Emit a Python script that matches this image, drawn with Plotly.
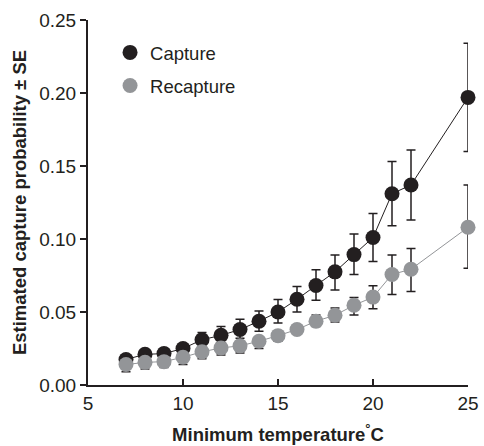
import plotly.graph_objects as go

temperature = [7, 8, 9, 10, 11, 12, 13, 14, 15, 16, 17, 18, 19, 20, 21, 22, 25]

capture = [0.0175, 0.021, 0.0215, 0.025, 0.031, 0.034, 0.038, 0.0437, 0.050, 0.0587,
           0.0682, 0.0775, 0.0893, 0.101, 0.131, 0.137, 0.197]
capture_hi = [0.020, 0.024, 0.025, 0.028, 0.036, 0.040, 0.045, 0.0507, 0.0585, 0.0675,
              0.079, 0.089, 0.1035, 0.1175, 0.153, 0.161, 0.234]
capture_lo = [0.015, 0.018, 0.018, 0.022, 0.026, 0.029, 0.032, 0.0368, 0.0425, 0.050,
              0.058, 0.065, 0.0757, 0.0846, 0.109, 0.113, 0.160]

recapture = [0.014, 0.0155, 0.016, 0.019, 0.0227, 0.0254, 0.0268, 0.0300, 0.0338, 0.038,
             0.0437, 0.0478, 0.0546, 0.0602, 0.0757, 0.0793, 0.108]
recapture_hi = [0.017, 0.019, 0.020, 0.022, 0.026, 0.029, 0.030, 0.033, 0.037, 0.041,
                0.048, 0.0527, 0.060, 0.068, 0.089, 0.0935, 0.137]
recapture_lo = [0.009, 0.011, 0.012, 0.014, 0.018, 0.0205, 0.022, 0.025, 0.030, 0.035,
                0.040, 0.0432, 0.048, 0.0523, 0.062, 0.064, 0.080]

DARK = "#231f20"
GREY = "#939598"
FONT = "Liberation Sans, Arial, sans-serif"


def err(vals, hi, lo):
    return ([h - v for v, h in zip(vals, hi)], [v - l for v, l in zip(vals, lo)])


fig = go.Figure()

cp, cm = err(capture, capture_hi, capture_lo)
rp, rm = err(recapture, recapture_hi, recapture_lo)

fig.add_trace(go.Scatter(
    x=temperature, y=capture, mode="lines+markers", showlegend=False,
    cliponaxis=False,
    line=dict(color=DARK, width=1),
    marker=dict(color=DARK, size=15),
    error_y=dict(type="data", symmetric=False, array=cp, arrayminus=cm,
                 color=DARK, thickness=1.5, width=4.5),
))
fig.add_trace(go.Scatter(
    x=temperature, y=recapture, mode="lines+markers", showlegend=False,
    cliponaxis=False,
    line=dict(color=GREY, width=1),
    marker=dict(color=GREY, size=15),
    error_y=dict(type="data", symmetric=False, array=rp, arrayminus=rm,
                 color=DARK, thickness=1.5, width=4.5),
))
fig.add_trace(go.Scatter(x=[None], y=[None], mode="markers", name="Capture",
                         legendgroup="cap", marker=dict(color=DARK, size=15)))
fig.add_trace(go.Scatter(x=[None], y=[None], mode="markers", name="Recapture",
                         legendgroup="recap", marker=dict(color=GREY, size=15)))

fig.update_layout(
    width=484, height=446,
    margin=dict(l=88, r=16, t=20, b=61),
    paper_bgcolor="white", plot_bgcolor="white",
    font=dict(family=FONT, size=19, color=DARK),
    legend=dict(x=0.058, y=0.962, xanchor="left", yanchor="top",
                font=dict(size=18.5, color=DARK), bgcolor="rgba(0,0,0,0)",
                itemsizing="trace", tracegroupgap=6),
    xaxis=dict(range=[5, 25], tickvals=[5, 10, 15, 20, 25], ticks="inside",
               ticklen=6, tickwidth=1.5, tickcolor=DARK, automargin=False,
               showline=True, linecolor=DARK, linewidth=2, showgrid=False,
               zeroline=False,
               title=dict(text="<b>Minimum temperature<sup>°</sup>C</b>",
                          font=dict(size=18.5))),
    yaxis=dict(range=[0, 0.25], tickvals=[0, 0.05, 0.10, 0.15, 0.20, 0.25],
               tickformat=".2f", ticks="outside", ticklen=6, tickwidth=1.5,
               tickcolor=DARK, showline=True, linecolor=DARK, linewidth=2,
               showgrid=False, zeroline=False, automargin=False,
               title=dict(text="<b>Estimated capture probability ± SE</b>",
                          font=dict(size=18.5), standoff=8)),
)

fig.write_html("out.html", config={"displayModeBar": False},
               post_script="document.body.style.margin='0';")
